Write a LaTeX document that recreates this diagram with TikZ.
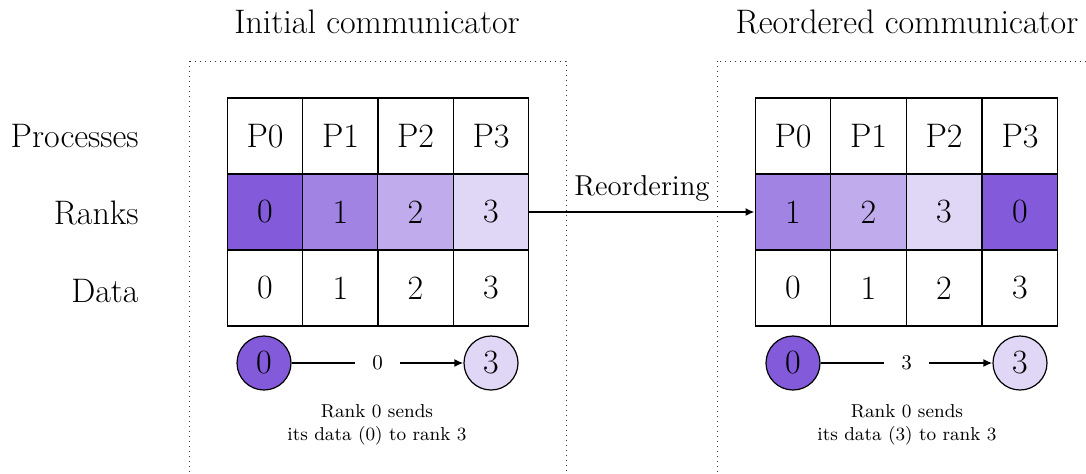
\documentclass[tikz,border=0pt]{standalone}
\usetikzlibrary{arrows.meta}
\definecolor{rk}{RGB}{130,90,218}
\begin{document}
\begin{tikzpicture}[x=0.5pt,y=-0.5pt,
  big/.style={font=\fontsize{17}{20}\selectfont},
  mid/.style={font=\fontsize{14.4}{17}\selectfont},
  small/.style={font=\fontsize{9.35}{11.5}\selectfont},
  elab/.style={font=\fontsize{10.5}{12}\selectfont, fill=white, inner xsep=8.5pt},
  cell/.style={draw, line width=0.7pt, minimum width=37.75pt, minimum height=38pt, inner sep=0pt, big},
  rowlab/.style={big, anchor=east, inner sep=0pt},
  circ/.style={draw, circle, line width=0.6pt, minimum size=27pt, inner sep=0pt, big},
  frame/.style={dotted, line width=0.5pt, black!80},
  arr/.style={-{Latex[length=4.5pt,width=4pt]}, line width=1.1pt}]
\clip (0,0) rectangle (1086,473);
% frames
\draw[frame] (189,61) rectangle (566,520);
\draw[frame] (717,61) rectangle (1095,520);
% titles
\node[big] (t1) at (377,22) {Initial communicator};
\node[big] (t2) at (907,22) {Reordered communicator};
% row labels
\node[rowlab] (lp) at (139,136) {Processes};
\node[rowlab] (lr) at (139,213) {Ranks};
\node[rowlab] (ld) at (139,291) {Data};
% left table
\foreach \i/\x/\c in {0/265/rk,1/340.5/rk!75,2/415.5/rk!50,3/491/rk!25}{
  \node[cell] (lP\i) at (\x,136) {P\i};
  \node[cell, fill=\c] (lR\i) at (\x,212) {\i};
  \node[cell] (lD\i) at (\x,288) {\i};
}
% right table
\foreach \i/\x/\c/\r in {0/793/rk!75/1,1/868.5/rk!50/2,2/944/rk!25/3,3/1020/rk/0}{
  \node[cell] (rP\i) at (\x,136) {P\i};
  \node[cell, fill=\c] (rR\i) at (\x,212) {\r};
  \node[cell] (rD\i) at (\x,288) {\i};
}
% reordering arrow
\draw[arr] (lR3.east) -- node[mid, above=1.5pt] {Reordering} (rR0.west);
% left send
\node[circ, fill=rk] (la) at (264,363) {0};
\node[circ, fill=rk!25] (lb) at (491,363) {3};
\draw[arr] (la) -- node[elab] {0} (lb);
\node[small, align=center] (lt) at (377,425) {Rank 0 sends\\its data (0) to rank 3};
% right send
\node[circ, fill=rk] (ra) at (793,363) {0};
\node[circ, fill=rk!25] (rb) at (1020,363) {3};
\draw[arr] (ra) -- node[elab] {3} (rb);
\node[small, align=center] (rt) at (907,425) {Rank 0 sends\\its data (3) to rank 3};
\end{tikzpicture}
\end{document}
